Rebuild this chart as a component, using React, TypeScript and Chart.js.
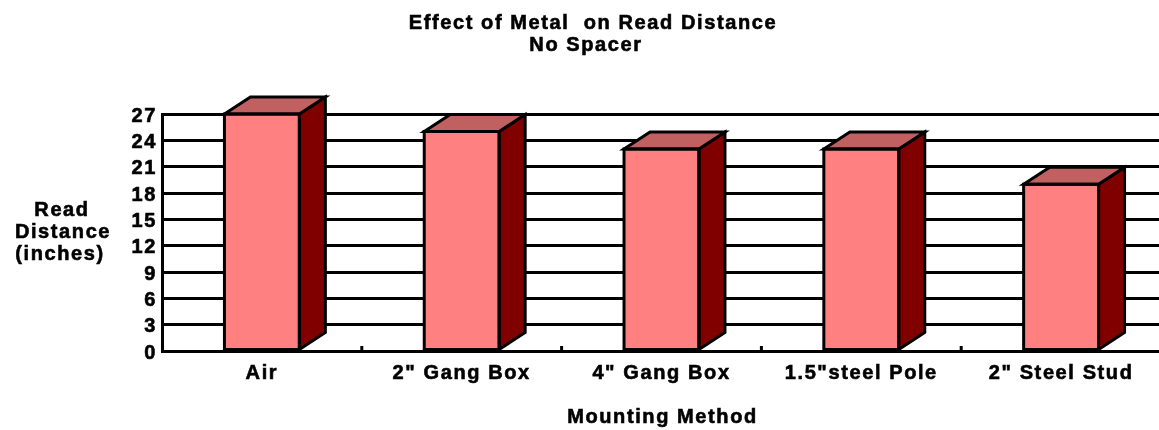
import React, { useEffect, useRef } from "react";
import { Chart, registerables } from "chart.js";

Chart.register(...registerables);

const categories = ['Air', '2" Gang Box', '4" Gang Box', '1.5"steel Pole', '2" Steel Stud'];
const readDistance = [27, 25, 23, 23, 19];
const yMin = 0;
const yMax = 27;
const yStep = 3;
const titleLines = ["Effect of Metal  on Read Distance", "No Spacer"];
const yTitleLines = ["Read", "Distance", "(inches)"];
const xTitle = "Mounting Method";

const FONT = '"Liberation Sans", Arial, Helvetica, sans-serif';
const SPACING = "1.6px";
const FRONT = "#FF8080";
const TOP = "#C06060";
const SIDE = "#800000";
const DX = 26;
const DY = 17;
const STROKE = 0.6;

const decorPlugin = {
  id: "decor",
  beforeDraw(chart: any) {
    const ctx = chart.ctx;
    ctx.letterSpacing = SPACING;
  },
  afterDatasetsDraw(chart: any) {
    const ctx = chart.ctx;
    const meta = chart.getDatasetMeta(0);
    ctx.save();
    ctx.lineWidth = 3;
    ctx.strokeStyle = "#000";
    ctx.lineJoin = "miter";
    meta.data.forEach((bar: any) => {
      const w = bar.width;
      const left = bar.x - w / 2;
      const right = bar.x + w / 2;
      const top = bar.y;
      const bottom = bar.base;
      // side face
      ctx.beginPath();
      ctx.moveTo(right, top);
      ctx.lineTo(right + DX, top - DY);
      ctx.lineTo(right + DX, bottom - DY);
      ctx.lineTo(right, bottom);
      ctx.closePath();
      ctx.fillStyle = SIDE;
      ctx.fill();
      ctx.stroke();
      // top face
      ctx.beginPath();
      ctx.moveTo(left, top);
      ctx.lineTo(left + DX, top - DY);
      ctx.lineTo(right + DX, top - DY);
      ctx.lineTo(right, top);
      ctx.closePath();
      ctx.fillStyle = TOP;
      ctx.fill();
      ctx.stroke();
      // front outline
      ctx.beginPath();
      ctx.rect(left, top, w, bottom - top);
      ctx.stroke();
    });
    ctx.restore();
  },
  afterDraw(chart: any) {
    const ctx = chart.ctx;
    const area = chart.chartArea;
    const xs = chart.scales.x;
    ctx.save();
    // category boundary tick marks
    ctx.strokeStyle = "#000";
    ctx.lineWidth = 3;
    for (let i = 1; i < categories.length; i++) {
      const bx = (xs.getPixelForTick(i - 1) + xs.getPixelForTick(i)) / 2;
      ctx.beginPath();
      ctx.moveTo(bx, area.bottom);
      ctx.lineTo(bx, area.bottom - 5);
      ctx.stroke();
    }
    ctx.fillStyle = "#000";
    ctx.strokeStyle = "#000";
    ctx.lineWidth = STROKE;
    ctx.font = `bold 20px ${FONT}`;
    ctx.letterSpacing = SPACING;
    ctx.textAlign = "center";
    ctx.textBaseline = "alphabetic";
    const put = (t: string, x: number, y: number) => {
      ctx.fillText(t, x, y);
      ctx.strokeText(t, x, y);
    };
    // title
    put(titleLines[0], 593, 28.5);
    put(titleLines[1], 586, 50.5);
    // y title
    const yBase = [216, 238, 260];
    const yX = [62, 63, 60];
    yTitleLines.forEach((t, i) => put(t, yX[i], yBase[i]));
    // x title
    put(xTitle, (area.left + area.right) / 2 + 1, 423);
    ctx.restore();
  },
};

export default function App() {
  const ref = useRef<HTMLCanvasElement | null>(null);

  useEffect(() => {
    if (!ref.current) return;
    const tickFont = { family: FONT, size: 20, weight: "bold" };
    const chart = new Chart(ref.current, {
      type: "bar",
      data: {
        labels: categories,
        datasets: [
          {
            data: readDistance,
            backgroundColor: FRONT,
            borderWidth: 0,
            barPercentage: 0.375,
            categoryPercentage: 1,
          },
        ],
      },
      options: {
        responsive: false,
        animation: false,
        devicePixelRatio: 1,
        layout: { padding: { top: 114, left: 0, right: 14, bottom: 0 } },
        plugins: {
          legend: { display: false },
          title: { display: false },
          tooltip: { enabled: false },
        },
        scales: {
          x: {
            grid: { display: false, drawTicks: false },
            border: { display: true, color: "#000", width: 3 },
            ticks: {
              color: "#000",
              font: tickFont,
              padding: 10,
              maxRotation: 0,
              autoSkip: false,
              textStrokeColor: "#000",
              textStrokeWidth: STROKE,
            },
            afterFit: (s: any) => {
              s.height = 79;
            },
          },
          y: {
            min: yMin,
            max: yMax,
            ticks: {
              stepSize: yStep,
              autoSkip: false,
              color: "#000",
              font: tickFont,
              padding: 5,
              labelOffset: 2,
              textStrokeColor: "#000",
              textStrokeWidth: STROKE,
            },
            grid: { color: "#000", lineWidth: 3, drawTicks: false },
            border: { display: true, color: "#000", width: 3 },
            afterFit: (s: any) => {
              s.width = 162;
            },
          },
        },
      },
      plugins: [decorPlugin],
    } as any);
    return () => chart.destroy();
  }, []);

  return (
    <div
      style={{
        position: "fixed",
        left: 0,
        top: 0,
        width: 1159,
        height: 430,
        overflow: "hidden",
        background: "#fff",
      }}
    >
      <canvas ref={ref} width={1175} height={430} style={{ width: 1175, height: 430, display: "block" }} />
    </div>
  );
}
